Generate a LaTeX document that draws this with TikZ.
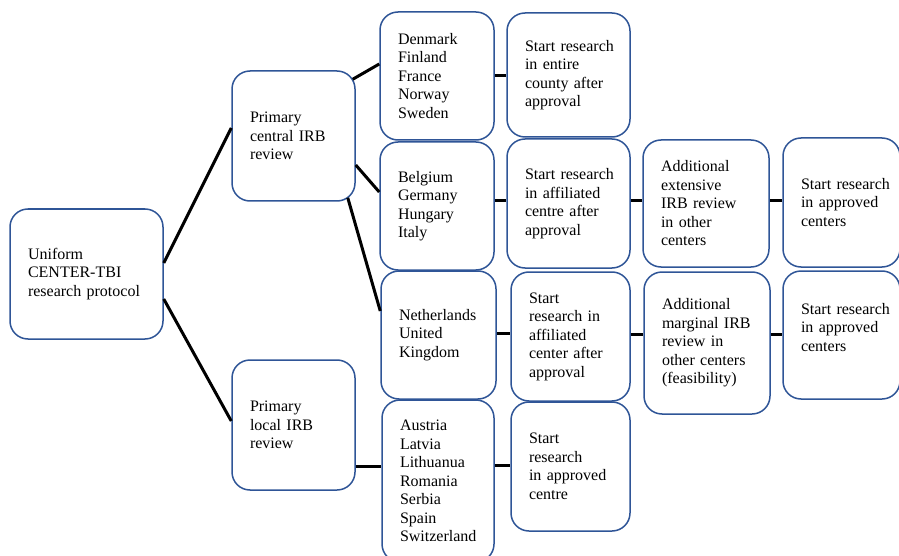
\documentclass[tikz,border=0pt]{standalone}
\usepackage{fontspec}
\setmainfont{Liberation Serif}
\usetikzlibrary{calc}
\definecolor{boxblue}{HTML}{2F5597}
\newcommand{\boxfontx}{\fontsize{16}{18.5}\selectfont\hyphenpenalty=10000\relax\exhyphenpenalty=10000\relax\hbadness=10000\relax\hfuzz=20pt\relax}
\begin{document}
\begin{tikzpicture}[x=1pt,y=-1pt,
  bx/.style={draw=boxblue, line width=1.5pt, rounded corners=18pt, fill=white,
    align=left, inner xsep=18pt, inner ysep=0pt,
    font=\boxfontx},
  conn/.style={line width=3pt, black},
  wh/.style n args={3}{minimum width=#1, minimum height=#2, text width=#3}]
\useasboundingbox (0,0) rectangle (899,556);
\begin{scope}
\clip (0,0) rectangle (899,556);
% column 1
\node[bx, wh={153pt}{130pt}{117pt}] (uni) at (86.5,274) {Uniform\\CENTER-TBI\\research~protocol};
% column 2
\node[bx, wh={123pt}{130pt}{87pt}] (cen) at (293.5,136) {Primary\\central~IRB\\review};
\node[bx, wh={123pt}{130pt}{87pt}] (loc) at (293.5,425) {Primary\\local~IRB\\review};
% column 3
\node[bx, wh={114pt}{128pt}{78pt}] (den) at (437,76) {Denmark\\Finland\\France\\Norway\\Sweden};
\node[bx, wh={114pt}{128pt}{78pt}] (bel) at (437,206) {Belgium\\Germany\\Hungary\\Italy};
\node[bx, wh={115pt}{128pt}{79pt}] (net) at (438.5,335) {Netherlands\\United\\Kingdom};
\node[bx, wh={112pt}{162pt}{76pt}] (aus) at (438,481) {Austria\\Latvia\\Lithuanua\\Romania\\Serbia\\Spain\\Switzerland};
% column 4
\node[bx, wh={123pt}{124pt}{87pt}] (s1) at (568.5,75) {Start~research\\in~entire\\county~after\\approval};
\node[bx, wh={123pt}{129pt}{87pt}] (s2) at (568.5,203.5) {Start~research\\in~affiliated\\centre~after\\approval};
\node[bx, wh={119pt}{129pt}{83pt}] (s3) at (570.5,336.5) {Start\\research~in\\affiliated\\center~after\\approval};
\node[bx, wh={119pt}{129pt}{83pt}] (s4) at (570.5,466.5) {Start\\research\\in~approved\\centre};
% column 5
\node[bx, wh={126pt}{127pt}{90pt}] (a1) at (706,203.5) {Additional\\extensive\\IRB~review\\in~other\\centers};
\node[bx, wh={126pt}{142pt}{90pt}] (a2) at (707,343) {Additional\\marginal~IRB\\review~in\\other~centers\\(feasibility)};
% column 6
\node[bx, wh={117pt}{129pt}{81pt}] (e1) at (841.5,202.5) {Start~research\\in~approved\\centers};
\node[bx, wh={117pt}{128pt}{81pt}] (e2) at (841.5,335) {Start~research\\in~approved\\centers\\[-2.5pt]\mbox{}};
\end{scope}
% connectors
\draw[conn] ([yshift=11pt]uni.east) -- ([yshift=8pt]cen.west);
\draw[conn] ([yshift=-25pt]uni.east) -- ([yshift=4pt]loc.west);
\draw[conn] ([xshift=-3pt,yshift=-9pt]cen.north east) -- ([yshift=12pt]den.west);
\draw[conn] ([yshift=-29pt]cen.east) -- ([yshift=14pt]bel.west);
\draw[conn] ([xshift=-8pt,yshift=4pt]cen.south east) -- ([yshift=24pt]net.west);
\draw[conn] ([yshift=-41pt]loc.east) -- ([yshift=-41pt]loc.east -| aus.west);
\draw[conn] (den.east) -- (den.east -| s1.west);
\draw[conn] ([yshift=5pt]bel.east) -- ([yshift=5pt]bel.east -| s2.west);
\draw[conn] ([yshift=2.5pt]s2.east) -- ([yshift=2.5pt]s2.east -| a1.west);
\draw[conn] ([yshift=2.5pt]a1.east) -- ([yshift=2.5pt]a1.east -| e1.west);
\draw[conn] ([yshift=2pt]net.east) -- ([yshift=2pt]net.east -| s3.west);
\draw[conn] ([yshift=2.5pt]s3.east) -- ([yshift=2.5pt]s3.east -| a2.west);
\draw[conn] ([yshift=9pt]a2.east) -- ([yshift=9pt]a2.east -| e2.west);
\draw[conn] ([yshift=16pt]aus.east) -- ([yshift=16pt]aus.east -| s4.west);
\end{tikzpicture}
\end{document}
